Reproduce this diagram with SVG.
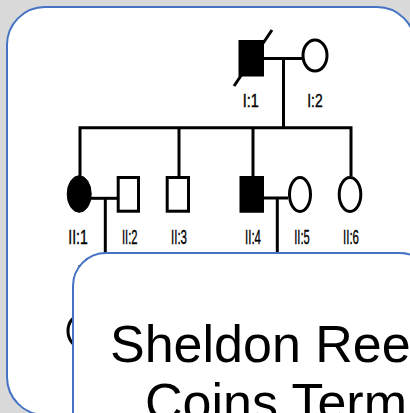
<svg xmlns="http://www.w3.org/2000/svg" width="410" height="413" viewBox="0 0 410 413">
<style>
.card{fill:#ffffff;stroke:#4472c4;stroke-width:2}
.ln{fill:none;stroke:#000;stroke-width:3;stroke-linecap:butt;stroke-linejoin:miter}
.open{fill:#ffffff;stroke:#000;stroke-width:3}
.aff{fill:#000;stroke:#000;stroke-width:1}
.lbl{font-family:"Liberation Sans",Arial,sans-serif;fill:#000;stroke:#000;stroke-width:0.4;text-anchor:middle}
.big{font-family:"Liberation Sans",Arial,sans-serif;font-size:52px;fill:#000}
</style>
<rect x="0" y="0" width="410" height="413" fill="#d9d9d9"/>
<rect class="card" x="7" y="7" width="408" height="408" rx="38" ry="38"/>
<g id="connectors">
<line class="ln" x1="264" y1="58.5" x2="302" y2="58.5"/>
<line class="ln" x1="283.5" y1="58.5" x2="283.5" y2="127.7"/>
<path class="ln" d="M80,176 V127.7 H351 V176"/>
<line class="ln" x1="179" y1="127.7" x2="179" y2="177"/>
<line class="ln" x1="253" y1="127.7" x2="253" y2="177"/>
<line class="ln" x1="91" y1="198.3" x2="117" y2="198.3"/>
<line class="ln" x1="105.3" y1="198.3" x2="105.3" y2="256"/>
<line class="ln" x1="264" y1="198" x2="288" y2="198"/>
<line class="ln" x1="277.3" y1="198" x2="277.3" y2="256"/>
<line class="ln" x1="80" y1="265" x2="80" y2="315"/>
</g>
<g id="I1">
<rect class="aff" x="239" y="40.5" width="24.5" height="35.5"/>
<line x1="234" y1="86" x2="272" y2="30" stroke="#000" stroke-width="3"/>
<text class="lbl" x="250.7" y="107" font-size="19" textLength="16" lengthAdjust="spacingAndGlyphs">I:1</text>
</g>
<g id="I2">
<ellipse class="open" cx="315" cy="55.5" rx="12" ry="15.5"/>
<text class="lbl" x="315" y="107" font-size="19" textLength="15.5" lengthAdjust="spacingAndGlyphs">I:2</text>
</g>
<g id="II1">
<ellipse class="aff" cx="79.2" cy="194" rx="12" ry="18.3"/>
<text class="lbl" x="78" y="244" font-size="21" textLength="19.5" lengthAdjust="spacingAndGlyphs">II:1</text>
</g>
<g id="II2">
<rect class="open" x="118.2" y="177.5" width="20.3" height="33.7"/>
<text class="lbl" x="129.7" y="244" font-size="21" textLength="15.5" lengthAdjust="spacingAndGlyphs">II:2</text>
</g>
<g id="II3">
<rect class="open" x="167.2" y="177.5" width="21.3" height="33.7"/>
<text class="lbl" x="179" y="244" font-size="21" textLength="16" lengthAdjust="spacingAndGlyphs">II:3</text>
</g>
<g id="II4">
<rect class="aff" x="240" y="176.5" width="23.5" height="35.7"/>
<text class="lbl" x="253" y="244" font-size="21" textLength="16" lengthAdjust="spacingAndGlyphs">II:4</text>
</g>
<g id="II5">
<ellipse class="open" cx="300" cy="194.5" rx="10.5" ry="17"/>
<text class="lbl" x="302" y="244" font-size="21" textLength="15.5" lengthAdjust="spacingAndGlyphs">II:5</text>
</g>
<g id="II6">
<ellipse class="open" cx="350" cy="194.5" rx="10.8" ry="17"/>
<text class="lbl" x="351" y="244" font-size="21" textLength="16" lengthAdjust="spacingAndGlyphs">II:6</text>
</g>
<g id="III1">
<ellipse class="open" cx="80" cy="331" rx="12" ry="15.5"/>
</g>
<g id="title-card">
<rect class="card" x="73" y="253" width="360" height="200" rx="33" ry="33"/>
<text class="big" x="110" y="362">Sheldon Ree</text>
<text class="big" x="145" y="420">Coins Term</text>
</g>
</svg>
